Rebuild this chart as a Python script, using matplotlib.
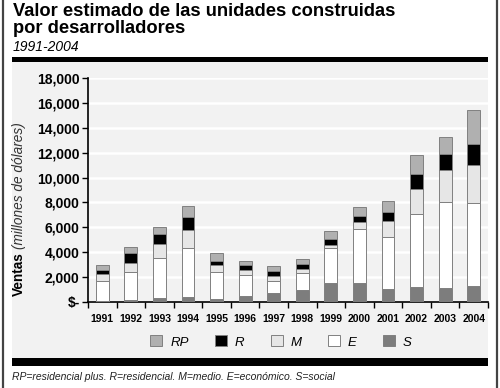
import matplotlib
matplotlib.use("Agg")
import matplotlib.pyplot as plt
from matplotlib.patches import Patch, Rectangle
from matplotlib.lines import Line2D
from matplotlib.ticker import FuncFormatter
import numpy as np

plt.rcParams['font.family'] = ['Liberation Sans', 'DejaVu Sans']

# Valores estimados (millones de dolares)
years = ['1991', '1992', '1993', '1994', '1995', '1996', '1997',
         '1998', '1999', '2000', '2001', '2002', '2003', '2004']
s_vals = [100, 190, 320, 400, 220, 510, 730, 940, 1510, 1510, 1050, 1190, 1100, 1320]
e_vals = [1570, 2230, 3230, 3950, 2230, 1670, 990, 1430, 2840, 4320, 4170, 5890, 6960, 6660]
m_vals = [610, 730, 1150, 1460, 530, 430, 380, 320, 270, 570, 1290, 2010, 2560, 2990]
r_vals = [330, 750, 780, 990, 350, 350, 400, 350, 430, 510, 720, 1210, 1260, 1750]
rp_vals = [350, 540, 540, 890, 620, 350, 430, 450, 650, 750, 890, 1500, 1370, 2680]

series = [('S', s_vals, '#7d7d7d'),
          ('E', e_vals, '#ffffff'),
          ('M', m_vals, '#e6e6e6'),
          ('R', r_vals, '#000000'),
          ('RP', rp_vals, '#b0b0b0')]

W, H = 500, 388
fig = plt.figure(figsize=(W / 100, H / 100), dpi=100)

def fx(px):
    return px / W

def fy(py):
    return 1 - py / H

# fondo gris y barras negras
fig.patches.append(Rectangle((fx(12), fy(358)), 476 / W, 296 / H, transform=fig.transFigure,
                             facecolor='#f2f2f2', edgecolor='none', zorder=-10))
fig.patches.append(Rectangle((fx(12), fy(62)), 476 / W, 5 / H, transform=fig.transFigure,
                             facecolor='black', edgecolor='none', zorder=-5))
fig.patches.append(Rectangle((fx(12), fy(366)), 476 / W, 8 / H, transform=fig.transFigure,
                             facecolor='black', edgecolor='none', zorder=-5))
for x in (3, 497):
    fig.lines.append(Line2D([fx(x), fx(x)], [0, 1], transform=fig.transFigure,
                            color='#444444', lw=1.6, zorder=-5))

ax = fig.add_axes([fx(88), fy(302), 400 / W, (302 - 78) / H])
ax.set_facecolor('none')

x = np.arange(len(years))
bottom = np.zeros(len(years))
for name, vals, color in series:
    ax.bar(x, vals, 0.45, bottom=bottom, color=color, edgecolor='#808080', linewidth=0.7, zorder=3)
    bottom += np.array(vals)

ax.set_xlim(-0.5, 13.5)
ax.set_ylim(0, 18000)
ax.set_yticks(range(0, 18001, 2000))
ax.yaxis.set_major_formatter(FuncFormatter(lambda v, p: '$-' if v == 0 else '{:,.0f}'.format(v)))
ax.yaxis.grid(True, color='white', lw=1.8)
ax.set_axisbelow(True)

ax.set_xticks(x)
ax.set_xticklabels(years, fontsize=7.5, fontweight='bold')
ax.set_xticks(np.arange(-0.5, 14, 1), minor=True)
ax.tick_params(axis='x', which='major', length=0, pad=9)
ax.tick_params(axis='x', which='minor', length=4, width=1, direction='out')
ax.tick_params(axis='y', length=4, width=1, pad=2, labelsize=10)
for lab in ax.get_yticklabels():
    lab.set_fontweight('bold')

for side in ('top', 'right'):
    ax.spines[side].set_visible(False)
for side in ('left', 'bottom'):
    ax.spines[side].set_linewidth(1.2)

# titulo
fig.text(fx(13), fy(3), 'Valor estimado de las unidades construidas\npor desarrolladores',
         ha='left', va='top', fontsize=13.2, fontweight='bold', linespacing=1.0)
fig.text(fx(13), fy(40), '1991-2004', ha='left', va='top', fontsize=10, style='italic')

# etiqueta eje y
t1 = fig.text(fx(19), fy(296), 'Ventas', rotation=90, ha='center', va='bottom',
              fontsize=9.8, fontweight='bold')
fig.canvas.draw()
bb = t1.get_window_extent(fig.canvas.get_renderer())
fig.text(fx(19), (bb.y1 + 3) / H, '(millones de dólares)', rotation=90, ha='center',
         va='bottom', fontsize=9.8, style='italic', color='#333333')

# leyenda
handles = [Patch(facecolor=c, edgecolor='#808080', linewidth=0.7) for n, v, c in series[::-1]]
labels = [n for n, v, c in series[::-1]]
fig.legend(handles, labels, loc='center', bbox_to_anchor=(0.562, fy(342)), ncol=5,
           frameon=False, prop={'style': 'italic', 'size': 9.5}, handlelength=0.9,
           handleheight=0.9, handletextpad=0.6, columnspacing=2.0)

fig.text(fx(12), fy(377), 'RP=residencial plus. R=residencial. M=medio. E=económico. S=social',
         ha='left', va='center', fontsize=7.5, style='italic', color='#222222')

fig.savefig('out.png', dpi=100)
